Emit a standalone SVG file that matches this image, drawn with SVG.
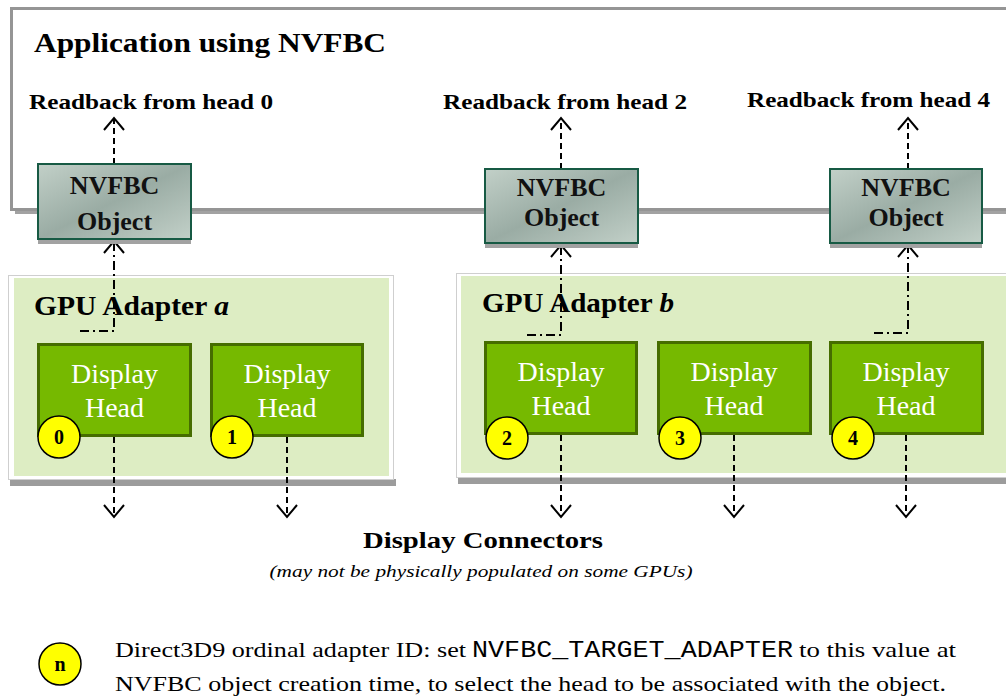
<svg xmlns="http://www.w3.org/2000/svg" width="1006" height="698" viewBox="0 0 1006 698">
<defs>
<linearGradient id="objGrad" x1="0" y1="0" x2="1" y2="1">
<stop offset="0" stop-color="#c2d0c8"/>
<stop offset="0.5" stop-color="#9aaca4"/>
<stop offset="1" stop-color="#c2d0c8"/>
</linearGradient>
<style>
text{font-family:'Liberation Serif','Times New Roman',Times,'Nimbus Roman',serif}
.b{font-weight:bold;fill:#000}
.obj{fill:url(#objGrad);stroke:#175a44;stroke-width:2}
.sh{fill:#a2a2a2}
.head{fill:#76b900;stroke:#466d00;stroke-width:3}
.ht{font-size:28px;fill:#fff;text-anchor:middle}
.ot{font-weight:bold;font-size:26px;fill:#111;text-anchor:middle}
.num{fill:#ffff00;stroke:#000;stroke-width:1.5}
.nt{font-weight:bold;font-size:20px;fill:#000;text-anchor:middle}
.dash{fill:none;stroke:#000;stroke-width:2;stroke-dasharray:6 4}
.dd{fill:none;stroke:#000;stroke-width:2;stroke-dasharray:9 4 2 4}
.ah{fill:none;stroke:#000;stroke-width:2}
.lg{font-size:22px;fill:#000}
text.mono{font-family:'Liberation Mono','Courier New',Courier,monospace;font-size:24px;fill:#000}
</style>
</defs>
<rect width="1006" height="698" fill="#fff"/>

<g id="application">
<rect x="15" y="13" width="1000" height="201" fill="#a2a2a2"/>
<rect x="11.5" y="8.5" width="1000" height="201" fill="#fff" stroke="#959595" stroke-width="3"/>
<text class="b" x="34" y="52" font-size="28" textLength="352" lengthAdjust="spacingAndGlyphs">Application using NVFBC</text>
<text class="b" x="29" y="109" font-size="21" textLength="244" lengthAdjust="spacingAndGlyphs">Readback from head 0</text>
<text class="b" x="443" y="109" font-size="21" textLength="244" lengthAdjust="spacingAndGlyphs">Readback from head 2</text>
<text class="b" x="747" y="107" font-size="21" textLength="243" lengthAdjust="spacingAndGlyphs">Readback from head 4</text>
</g>

<g id="adapter-a">
<rect x="10" y="479" width="386" height="7" fill="#9c9c9c"/>
<rect x="8.5" y="275.5" width="385" height="204" fill="#fff" stroke="#cfcfcf" stroke-width="1"/>
<rect x="14" y="278" width="375" height="198" fill="#ddedc3"/>
<text class="b" x="34" y="315" font-size="27" textLength="195" lengthAdjust="spacingAndGlyphs">GPU Adapter <tspan font-style="italic">a</tspan></text>
</g>

<g id="adapter-b">
<rect x="458" y="477" width="560" height="7" fill="#9c9c9c"/>
<rect x="456.5" y="273.5" width="560" height="204" fill="#fff" stroke="#cfcfcf" stroke-width="1"/>
<rect x="461" y="276" width="560" height="197" fill="#ddedc3"/>
<text class="b" x="482" y="312" font-size="27" textLength="192" lengthAdjust="spacingAndGlyphs">GPU Adapter <tspan font-style="italic">b</tspan></text>
</g>

<g id="connectors">
<path class="dash" d="M114,164 V119"/>
<path class="ah" d="M104,130 L114,118 L124,130"/>
<path class="dash" d="M561,169 V119"/>
<path class="ah" d="M551,130 L561,118 L571,130"/>
<path class="dash" d="M908,169 V119"/>
<path class="ah" d="M898,130 L908,118 L918,130"/>

<path class="dd" d="M80,331 H114 V242"/>
<path class="ah" d="M104,253 L114,241 L124,253"/>
<path class="dd" d="M527,335 H561 V246"/>
<path class="ah" d="M551,257 L561,245 L571,257"/>
<path class="dd" d="M874,333 H908 V246"/>
<path class="ah" d="M898,257 L908,245 L918,257"/>

<path class="dash" d="M114,437 V516"/>
<path class="ah" d="M104,505 L114,517 L124,505"/>
<path class="dash" d="M287,437 V516"/>
<path class="ah" d="M277,505 L287,517 L297,505"/>
<path class="dash" d="M561,435 V516"/>
<path class="ah" d="M551,505 L561,517 L571,505"/>
<path class="dash" d="M734,435 V516"/>
<path class="ah" d="M724,505 L734,517 L744,505"/>
<path class="dash" d="M906,435 V516"/>
<path class="ah" d="M896,505 L906,517 L916,505"/>
</g>

<g id="nvfbc-0">
<rect class="sh" x="38" y="169" width="153" height="75"/>
<rect class="obj" x="38" y="164" width="153" height="75"/>
<text class="ot" x="114.5" y="194">NVFBC</text>
<text class="ot" x="114.5" y="230">Object</text>
</g>
<g id="nvfbc-2">
<rect class="sh" x="485" y="174" width="153" height="74"/>
<rect class="obj" x="485" y="169" width="153" height="74"/>
<text class="ot" x="561.5" y="196">NVFBC</text>
<text class="ot" x="561.5" y="226">Object</text>
</g>
<g id="nvfbc-4">
<rect class="sh" x="830" y="174" width="152" height="74"/>
<rect class="obj" x="830" y="169" width="152" height="74"/>
<text class="ot" x="906" y="196">NVFBC</text>
<text class="ot" x="906" y="226">Object</text>
</g>

<g id="head-0">
<rect class="head" x="38.5" y="344.5" width="152" height="91"/>
<text class="ht" x="114.5" y="383">Display</text>
<text class="ht" x="114.5" y="417">Head</text>
<circle class="num" cx="59" cy="437" r="21"/>
<text class="nt" x="59" y="444">0</text>
</g>
<g id="head-1">
<rect class="head" x="211.5" y="344.5" width="151" height="91"/>
<text class="ht" x="287" y="383">Display</text>
<text class="ht" x="287" y="417">Head</text>
<circle class="num" cx="232" cy="437" r="21"/>
<text class="nt" x="232" y="444">1</text>
</g>
<g id="head-2">
<rect class="head" x="485.5" y="342.5" width="151" height="91"/>
<text class="ht" x="561" y="381">Display</text>
<text class="ht" x="561" y="415">Head</text>
<circle class="num" cx="507" cy="438" r="21"/>
<text class="nt" x="507" y="445">2</text>
</g>
<g id="head-3">
<rect class="head" x="658.5" y="342.5" width="152" height="91"/>
<text class="ht" x="734" y="381">Display</text>
<text class="ht" x="734" y="415">Head</text>
<circle class="num" cx="680" cy="438" r="21"/>
<text class="nt" x="680" y="445">3</text>
</g>
<g id="head-4">
<rect class="head" x="830.5" y="342.5" width="152" height="91"/>
<text class="ht" x="906" y="381">Display</text>
<text class="ht" x="906" y="415">Head</text>
<circle class="num" cx="853" cy="438" r="21"/>
<text class="nt" x="853" y="445">4</text>
</g>

<g id="display-connectors">
<text class="b" x="483" y="548" font-size="24" text-anchor="middle" textLength="240" lengthAdjust="spacingAndGlyphs">Display Connectors</text>
<text x="481" y="577" font-style="italic" font-size="17" text-anchor="middle" textLength="423" lengthAdjust="spacingAndGlyphs">(may not be physically populated on some GPUs)</text>
</g>

<g id="legend">
<circle class="num" cx="60" cy="664" r="21"/>
<text class="nt" x="60" y="671">n</text>
<text class="lg" x="115" y="657" textLength="351" lengthAdjust="spacingAndGlyphs">Direct3D9 ordinal adapter ID: set</text>
<text class="mono" x="472" y="657" textLength="321" lengthAdjust="spacingAndGlyphs">NVFBC_TARGET_ADAPTER</text>
<text class="lg" x="799" y="657" textLength="157" lengthAdjust="spacingAndGlyphs">to this value at</text>
<text class="lg" x="115" y="691" textLength="831" lengthAdjust="spacingAndGlyphs">NVFBC object creation time, to select the head to be associated with the object.</text>
</g>
</svg>
